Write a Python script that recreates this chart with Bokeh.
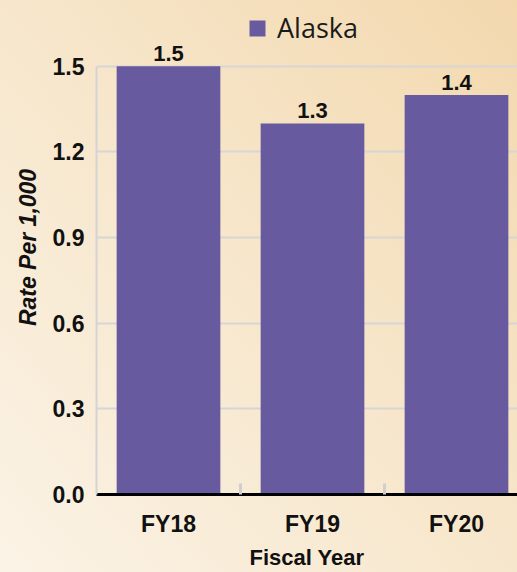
from bokeh.plotting import figure
from bokeh.models import (Range1d, FixedTicker, PrintfTickFormatter, Legend, LegendItem,
                          ColumnDataSource)
from bokeh.core.properties import value
from bokeh.embed import file_html
from bokeh.resources import INLINE

categories = ["FY18", "FY19", "FY20"]
rates = [1.5, 1.3, 1.4]
series_name = "Alaska"
y_ticks = [0.0, 0.3, 0.6, 0.9, 1.2, 1.5]

x_pos = [i + 0.5 for i in range(len(categories))]
labels = [f"{v:.1f}" for v in rates]
src = ColumnDataSource(dict(x=x_pos, top=rates, label=labels))

BAR = "#675a9e"
FONT = "Liberation Sans"
W, H = 517, 572
LEFT, BOTTOM = 96, 77
CAT_PX = 144.0
FRAME_H = H - BOTTOM
Y_PX = 429.0 / 1.5

p = figure(width=W, height=H, output_backend="svg", toolbar_location=None,
           x_range=Range1d(0, (W - LEFT) / CAT_PX),
           y_range=Range1d(0, FRAME_H / Y_PX),
           min_border_left=LEFT, min_border_top=0, min_border_bottom=BOTTOM,
           min_border_right=0)
p.background_fill_alpha = 0
p.border_fill_alpha = 0
p.outline_line_color = None

r = p.vbar(x="x", top="top", width=0.72, bottom=0, source=src,
           fill_color=BAR, line_color=None)

p.text(x="x", y="top", text="label", source=src, text_align="center",
       text_baseline="bottom", y_offset=-5, text_font=value(FONT),
       text_font_style="bold", text_font_size="22px", text_color="#111111")

# x axis
xa = p.xaxis[0]
xa.ticker = FixedTicker(ticks=x_pos, minor_ticks=[1, 2])
xa.major_label_overrides = {x: c for x, c in zip(x_pos, categories)}
xa.major_tick_line_color = None
xa.minor_tick_in = 11
xa.minor_tick_out = 0
xa.minor_tick_line_color = "#cfcfcf"
xa.minor_tick_line_width = 3
xa.axis_line_color = "#000000"
xa.axis_line_width = 3
xa.major_label_text_font = FONT
xa.major_label_text_font_style = "bold"
xa.major_label_text_font_size = "23px"
xa.major_label_text_color = "#111111"
xa.major_label_standoff = 10
xa.axis_label = "Fiscal Year"
xa.axis_label_text_font = FONT
xa.axis_label_text_font_style = "bold"
xa.axis_label_text_font_size = "22px"
xa.axis_label_text_color = "#111111"
xa.axis_label_standoff = 5

# y axis
ya = p.yaxis[0]
ya.ticker = FixedTicker(ticks=y_ticks)
ya.bounds = (0, 1.5)
ya.formatter = PrintfTickFormatter(format="%.1f")
ya.major_tick_line_color = None
ya.minor_tick_line_color = None
ya.axis_line_color = "#d3d3d3"
ya.axis_line_width = 2
ya.major_label_text_font = FONT
ya.major_label_text_font_style = "bold"
ya.major_label_text_font_size = "23px"
ya.major_label_text_color = "#111111"
ya.major_label_standoff = 6
ya.axis_label = "Rate Per 1,000"
ya.axis_label_text_font = FONT
ya.axis_label_text_font_style = "bold italic"
ya.axis_label_text_font_size = "23px"
ya.axis_label_text_color = "#111111"
ya.axis_label_standoff = 9

p.xgrid.grid_line_color = None
p.ygrid.grid_line_color = "#d6d6d6"
p.ygrid.grid_line_width = 2

legend = Legend(items=[LegendItem(label=series_name, renderers=[r])],
                location=(151, 448), orientation="horizontal",
                padding=0, margin=0, spacing=0,
                glyph_width=20, glyph_height=20, label_standoff=10,
                label_text_font="Open Sans", label_text_font_size="27px",
                label_text_color="#1a1a1a",
                background_fill_alpha=0, border_line_color=None)
p.add_layout(legend, "center")

html = file_html(p, INLINE)
style = ("<style>html{min-height:100%;background:linear-gradient(to top right,#fbf3e6 0%,"
         "#f6e4c6 60%,#f3d8ae 100%);}body{background:transparent;}</style>")
html = html.replace("</head>", style + "</head>", 1)
open("out.html", "w").write(html)
